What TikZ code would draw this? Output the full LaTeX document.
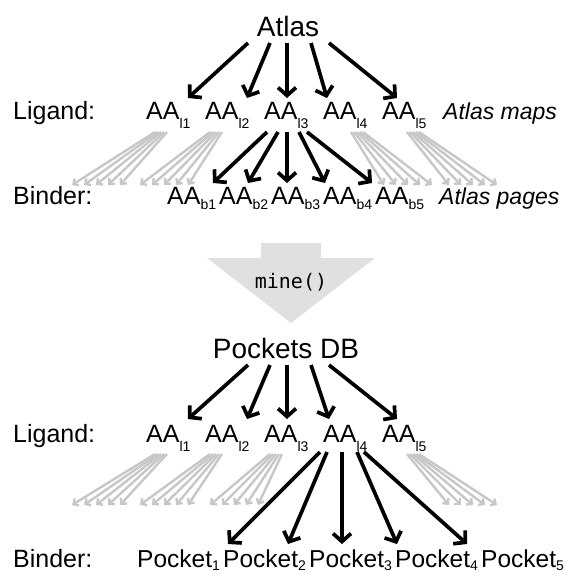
\documentclass[tikz,border=0pt]{standalone}
\usepackage{fontspec}
\setmainfont{Liberation Sans}
\newfontfamily\codefont{DejaVu Sans Mono}
\usetikzlibrary{arrows.meta,calc}

\definecolor{fade}{gray}{0.78}
\definecolor{blockfill}{gray}{0.88}

\newcommand\bigfont{\fontsize{28}{32}\selectfont}
\newcommand\lblfont{\fontsize{25}{30}\selectfont}
% lowered subscript: #1 = drop in pt, #2 = text
\newcommand\dropsub[2]{\raisebox{-#1pt}{\fontsize{14}{14}\selectfont #2}}

\begin{document}
\begin{tikzpicture}[x=1pt,y=-1pt,
  txt/.style={inner sep=0pt, anchor=base west, font=\lblfont},
  ttl/.style={inner sep=0pt, anchor=base, font=\bigfont},
  note/.style={inner sep=0pt, anchor=base west, font=\fontsize{23}{28}\selectfont\itshape},
  arr/.style={line width=3.7pt, -{Straight Barb[length=8pt,width=18pt]}},
  ghost/.style={line width=2.4pt, draw=fade, -{Straight Barb[length=4pt,width=8pt]}},
]
\useasboundingbox (0,0) rectangle (564,574);

% ---------- Atlas ----------
\node[ttl] (atlas) at (288,36) {Atlas};
\node[txt] (ligA) at (13,119) {Ligand:};
\foreach \i/\x in {1/146,2/205,3/264,4/323,5/382}
  \node[txt] (lA\i) at (\x,119) {AA\dropsub{9}{l\i}};
\node[note] (mapsA) at (443,119) {Atlas maps};
\node[txt] (binA) at (13,204) {Binder:};
\foreach \i/\x in {1/167,2/219,3/271,4/323,5/375}
  \node[txt] (bA\i) at (\x,204) {AA\dropsub{5}{b\i}};
\node[note] (pagesA) at (439,204) {Atlas pages};

\foreach \i/\sx/\tx in {1/-40/42,2/-18/42,3/-1/23,4/23/4,5/41/15}
  \draw[arr] ($(atlas.base)+(\sx,7)$) -- ($(lA\i.base west)+(\tx,-21)$);

\foreach \i/\sx/\tx in {1/3/46,2/14/29,3/23/16,4/35/2,5/43/-3}
  \draw[arr] ($(lA3.base west)+(\sx,13)$) -- ($(bA\i.base west)+(\tx,-21)$);

% faded bundles: node / top centre / bottom centre
\foreach \n/\ct/\cb in {lA1/15/-50,lA2/11/-41,lA4/34/85,lA5/31/91}
  \foreach \k in {-2,...,2}
    \draw[ghost] ($(\n.base west)+(\ct+3*\k,13)$) -- ($(\n.base west)+(\cb+12*\k,66)$);

% ---------- mine() ----------
\fill[blockfill] (261,243) -- (321,243) -- (321,258) -- (375,258) -- (291,323)
  -- (207,258) -- (261,258) -- cycle;
\node[inner sep=0pt, anchor=base, font=\codefont\fontsize{20}{24}\selectfont] (mine) at (291,288) {mine()};

% ---------- Pockets DB ----------
\node[ttl] (pockets) at (286,358) {Pockets DB};
\node[txt] (ligB) at (13,442) {Ligand:};
\foreach \i/\x in {1/146,2/205,3/264,4/323,5/382}
  \node[txt] (lB\i) at (\x,442) {AA\dropsub{9}{l\i}};
\node[txt] (binB) at (13,567) {Binder:};
\foreach \i/\x in {1/137,2/223,3/309,4/395,5/481}
  \node[txt, font=\fontsize{24.5}{28}\selectfont] (pk\i) at (\x,567) {Pocket\dropsub{3}{\i}};

\foreach \i/\sx/\tx in {1/-38/42,2/-16/42,3/1/23,4/25/6,5/43/15}
  \draw[arr] ($(pockets.base)+(\sx,7)$) -- ($(lB\i.base west)+(\tx,-23)$);

\foreach \i/\sx/\tx in {1/-3/91,2/4/65,3/19/33,4/34/2,5/41/-14}
  \draw[arr] ($(lB4.base west)+(\sx,10)$) -- ($(pk\i.base west)+(\tx,-23)$);

\foreach \n/\ct/\cb in {lB1/15/-50,lB2/11/-41,lB3/12/-30,lB5/31/91}
  \foreach \k in {-2,...,2}
    \draw[ghost] ($(\n.base west)+(\ct+3*\k,12)$) -- ($(\n.base west)+(\cb+12*\k,63)$);
\end{tikzpicture}
\end{document}
